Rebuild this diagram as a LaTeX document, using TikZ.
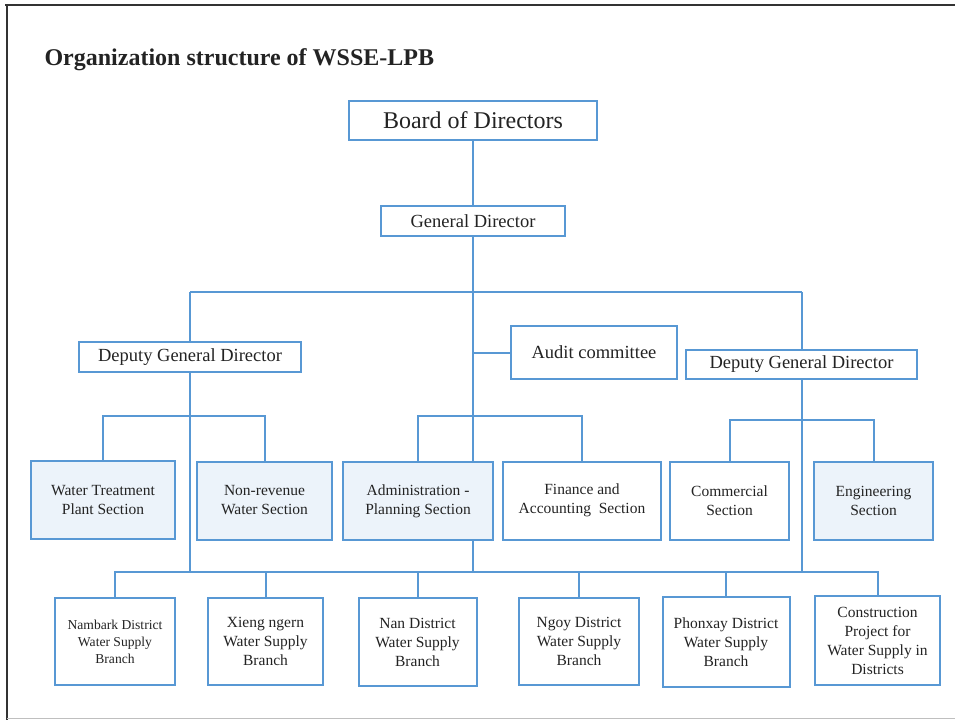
\documentclass[tikz,border=0pt]{standalone}
\usepackage{fontspec}
\setmainfont{Liberation Serif}
\usepackage{tikz}
\usetikzlibrary{positioning,calc,backgrounds}

\definecolor{orgblue}{RGB}{88,152,212}
\definecolor{orgfill}{RGB}{236,243,250}
\definecolor{orgtext}{RGB}{35,35,35}

\begin{document}
\begin{tikzpicture}[%
x=1pt, y=-1pt,
box/.style={draw=orgblue, line width=2pt, fill=white, inner sep=0pt,
  align=center, text=orgtext},
tinted/.style={box, fill=orgfill},
big/.style={font=\fontsize{24}{28}\selectfont},
mid/.style={font=\fontsize{18.5}{22}\selectfont},
sec/.style={font=\fontsize{15.5}{19}\selectfont},
small/.style={font=\fontsize{13.6}{17}\selectfont},
link/.style={draw=orgblue, line width=2pt},
frame/.style={draw=black!80, line width=2.5pt}
]
\useasboundingbox (0,0) rectangle (955,720);

% frame and title
\draw[frame] (5,5) -- (955,5);
\draw[frame] (7,5) -- (7,720);
\draw[black!25, line width=1pt] (7,718) -- (955,718);
\node[anchor=base west, text=orgtext, font=\fontsize{24}{28}\selectfont\bfseries]
  (title) at (41,65) {Organization structure of WSSE-LPB};

% top levels
\node[box, big, minimum width=248, minimum height=39] (board) at (473,120.5) {Board of Directors};
\node[box, mid, minimum width=184, minimum height=30] (gd) at (473,221) {General Director};
\node[box, mid, minimum width=222, minimum height=30] (dgdL) at (190,357) {Deputy General Director};
\node[box, mid, minimum width=166, minimum height=53] (audit) at (594,352.5) {Audit committee};
\node[box, mid, minimum width=231, minimum height=29] (dgdR) at (801.5,364.5) {Deputy General Director};

% sections
\node[tinted, sec, minimum width=144, minimum height=78] (wtp) at (103,499.5) {Water Treatment\\Plant Section};
\node[tinted, sec, minimum width=135, minimum height=78] (nrw) at (264.5,500.5) {Non-revenue\\Water Section};
\node[tinted, sec, minimum width=150, minimum height=78] (admin) at (418,501) {Administration -\\Planning Section};
\node[box, sec, minimum width=158, minimum height=78] (fin) at (582,500.5) {Finance and\\Accounting\ \ Section};
\node[box, sec, minimum width=119, minimum height=78] (comm) at (729.5,500.5) {Commercial\\Section};
\node[tinted, sec, minimum width=119, minimum height=78] (eng) at (873.5,500.5) {Engineering\\Section};

% branches
\node[box, small, minimum width=120, minimum height=87] (nambark) at (115,641.5) {Nambark District\\Water Supply\\Branch};
\node[box, sec, minimum width=115, minimum height=87] (xieng) at (265.5,641.5) {Xieng ngern\\Water Supply\\Branch};
\node[box, sec, minimum width=118, minimum height=88] (nan) at (417.5,642) {Nan District\\Water Supply\\Branch};
\node[box, sec, minimum width=120, minimum height=87] (ngoy) at (579,641.5) {Ngoy District\\Water Supply\\Branch};
\node[box, sec, minimum width=127, minimum height=90] (phonxay) at (726,642) {Phonxay District\\Water Supply\\Branch};
\node[box, sec, minimum width=125, minimum height=89] (constr) at (877.5,640.5) {Construction\\Project for\\Water Supply in\\Districts};

\coordinate (topbus) at (473,292);
\coordinate (secbusL) at (0,416);
\coordinate (secbusR) at (0,420);
\coordinate (brbus) at (473,572);

% connectors behind the boxes
\begin{pgfonlayer}{background}
\draw[link] (board.south) -- (gd.north);
\draw[link] (gd.south) -- (gd.south |- brbus);
\draw[link] (dgdL |- topbus) -- (dgdR |- topbus);
\draw[link] (dgdL |- topbus) -- (dgdL |- brbus);
\draw[link] (dgdR |- topbus) -- (dgdR |- brbus);
\draw[link] (gd |- audit) -- (audit.west);

\draw[link] (wtp.north) -- (wtp.north |- secbusL) -- (nrw.north |- secbusL) -- (nrw.north);
\draw[link] (admin.north) -- (admin.north |- secbusL) -- (fin.north |- secbusL) -- (fin.north);
\draw[link] (comm.north) -- (comm.north |- secbusR) -- (eng.north |- secbusR) -- (eng.north);

\draw[link] (nambark.north) -- (nambark.north |- brbus) -- (constr.north |- brbus) -- (constr.north);
\foreach \b in {xieng,nan,ngoy,phonxay}
  \draw[link] (\b.north) -- (\b.north |- brbus);
\end{pgfonlayer}
\end{tikzpicture}
\end{document}
